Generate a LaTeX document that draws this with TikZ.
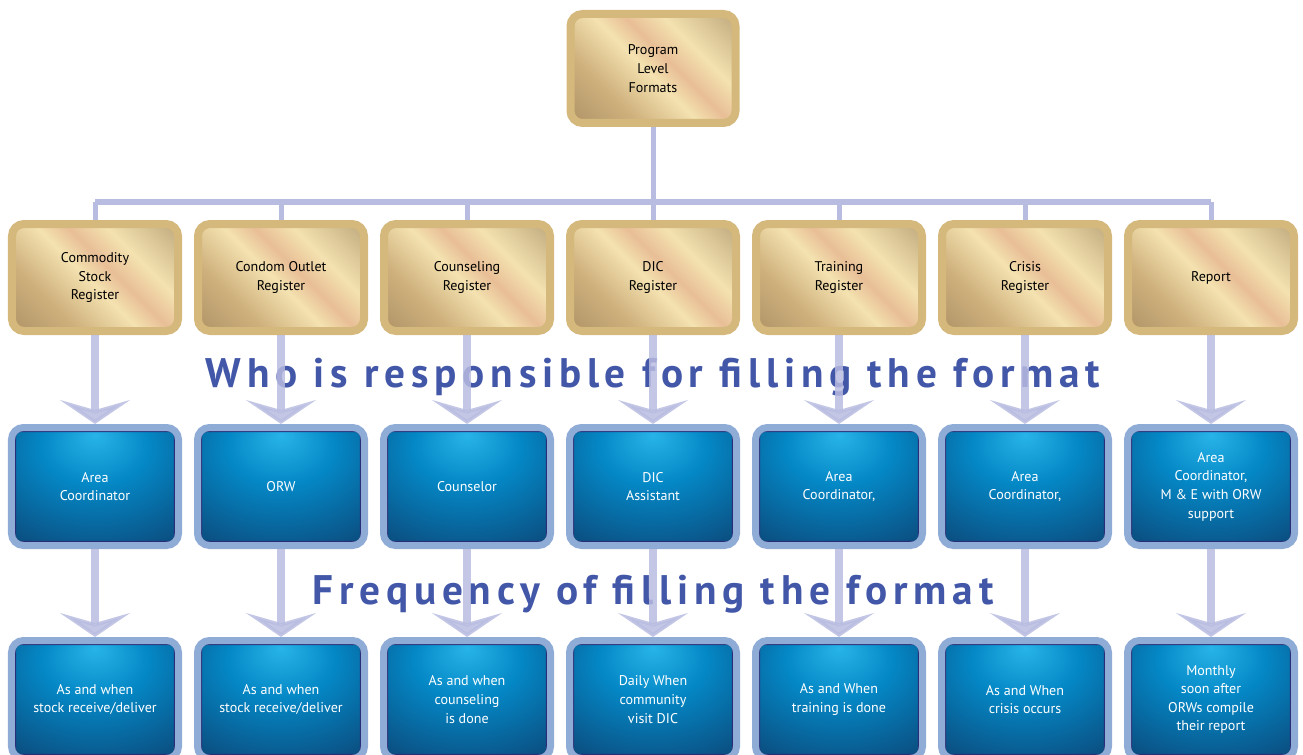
\documentclass[tikz,border=0pt]{standalone}
\usepackage{fontspec}
\setmainfont{PT Sans}
\newfontfamily\headfont[LetterSpace=14]{PT Sans}
\usetikzlibrary{positioning,arrows.meta}

\definecolor{linklav}{RGB}{184,188,224}
\definecolor{headblue}{RGB}{66,87,168}
\definecolor{goldrim}{RGB}{212,184,124}
\definecolor{goldlight}{RGB}{244,226,176}
\definecolor{goldmid}{RGB}{206,176,124}
\definecolor{golddark}{RGB}{150,124,86}
\definecolor{goldpink}{RGB}{232,190,150}
\definecolor{bluerim}{RGB}{142,172,214}
\definecolor{bluenavy}{RGB}{42,46,120}
\definecolor{bluespot}{RGB}{40,180,232}
\definecolor{bluemid}{RGB}{4,136,198}
\definecolor{bluedeep}{RGB}{12,68,116}

\pgfdeclareradialshading{bluesheen}{\pgfpoint{0bp}{22bp}}{color(0bp)=(bluespot); color(16bp)=(bluemid); color(44bp)=(bluedeep); color(70bp)=(bluedeep)}
\pgfdeclarehorizontalshading{goldsheen}{100bp}{color(0bp)=(golddark); color(32bp)=(goldmid); color(48bp)=(goldlight); color(56bp)=(goldpink); color(66bp)=(goldlight); color(100bp)=(golddark)}

\begin{document}
\begin{tikzpicture}[
                goldbox/.style={rectangle, rounded corners=2.4mm, draw=goldrim, line width=0.16cm, shading=goldsheen, shading angle=45, minimum width=3.32cm, minimum height=2.14cm, align=center, font=\fontsize{8}{10.6}\selectfont,
                    path picture={\draw[goldlight, line width=0.6pt] ([shift={(0.02,0.02)}]path picture bounding box.south west) rectangle ([shift={(-0.02,-0.02)}]path picture bounding box.north east);}},
                bluebox/.style={rectangle, rounded corners=2.4mm, draw=bluerim, line width=0.14cm, shading=bluesheen, minimum width=3.34cm, minimum height=2.36cm, align=center, text=white, font=\fontsize{8}{10.6}\selectfont,
                    path picture={\draw[bluenavy, line width=1.2pt, rounded corners=1.2mm] ([shift={(0.07,0.07)}]path picture bounding box.south west) rectangle ([shift={(-0.07,-0.07)}]path picture bounding box.north east);}},
                heading/.style={text=headblue, font=\headfont\bfseries\fontsize{23.5}{28}\selectfont, anchor=base},
                link/.style={draw=linklav, line width=0.1cm},
                flow/.style={draw=linklav, opacity=0.85, line width=0.16cm, -{Stealth[length=0.48cm, width=1.4cm, inset=0.2cm]}},
            ]
            \useasboundingbox (0,0) rectangle (26.06,-15.1);

            % registers
            \node[goldbox]  (g1) at (1.9,-5.55)        {Commodity\\Stock\\Register};
            \node[goldbox]  (g2) [right = .24 of g1]   {Condom Outlet\\Register};
            \node[goldbox]  (g3) [right = .24 of g2]   {Counseling\\Register};
            \node[goldbox]  (g4) [right = .24 of g3]   {DIC\\Register};
            \node[goldbox]  (g5) [right = .24 of g4]   {Training\\Register};
            \node[goldbox]  (g6) [right = .24 of g5]   {Crisis\\Register};
            \node[goldbox]  (g7) [right = .24 of g6]   {Report};
            \node[goldbox, minimum width=3.3cm, minimum height=2.18cm] (top) [above = 1.86 of g4] {Program\\Level\\Formats};

            % who fills it
            \node[bluebox]  (b1) [below = 1.78 of g1]  {Area\\Coordinator};
            \node[bluebox]  (b2) [below = 1.78 of g2]  {ORW};
            \node[bluebox]  (b3) [below = 1.78 of g3]  {Counselor};
            \node[bluebox]  (b4) [below = 1.78 of g4]  {DIC\\Assistant};
            \node[bluebox]  (b5) [below = 1.78 of g5]  {Area\\Coordinator,};
            \node[bluebox]  (b6) [below = 1.78 of g6]  {Area\\Coordinator,};
            \node[bluebox]  (b7) [below = 1.78 of g7]  {Area\\Coordinator,\\M \& E with ORW\\support};

            % how often
            \node[bluebox]  (c1) [below = 1.76 of b1]  {As and when\\stock receive/deliver};
            \node[bluebox]  (c2) [below = 1.76 of b2]  {As and when\\stock receive/deliver};
            \node[bluebox]  (c3) [below = 1.76 of b3]  {As and when\\counseling\\is done};
            \node[bluebox]  (c4) [below = 1.76 of b4]  {Daily When\\community\\visit DIC};
            \node[bluebox]  (c5) [below = 1.76 of b5]  {As and When\\training is done};
            \node[bluebox]  (c6) [below = 1.76 of b6]  {As and When\\crisis occurs};
            \node[bluebox]  (c7) [below = 1.76 of b7]  {Monthly\\soon after\\ORWs compile\\their report};

            \node[heading]  (who)  at (13.06,-7.74)    {Who is responsible for filling the format};
            \node[heading]  (freq) at (13.06,-12.08)   {Frequency of filling the format};

            \coordinate (bus) at (0,-4.04);
            \draw[link] (top.south) -- (g4.north);
            \draw[link] (g1.north |- bus) -- (g7.north |- bus);
            \foreach \i in {1,...,7} {
                \draw[link] (g\i.north |- bus) -- (g\i.north);
                \draw[flow] (g\i.south) -- (b\i.north);
                \draw[flow] (b\i.south) -- (c\i.north);
            }
        \end{tikzpicture}
\end{document}
